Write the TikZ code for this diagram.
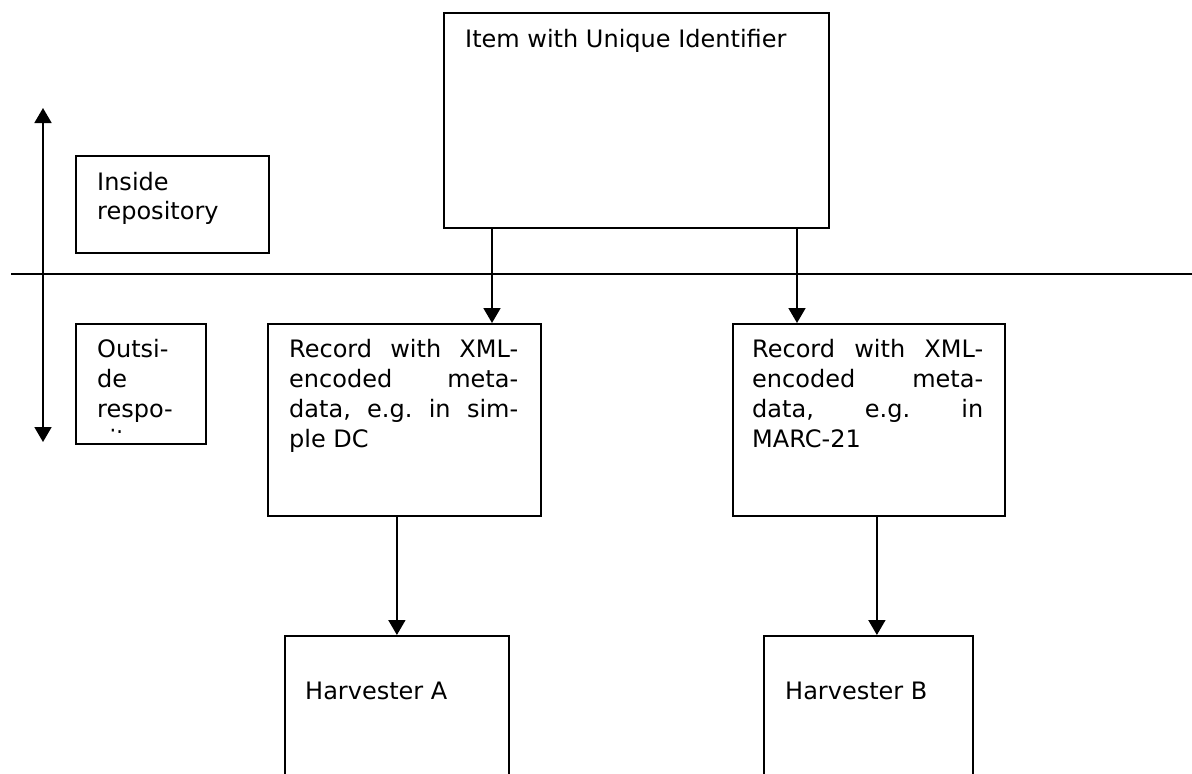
\documentclass[tikz,border=0pt]{standalone}
\usepackage{fontspec}
\setmainfont{DejaVu Sans}
\usetikzlibrary{arrows.meta}
\frenchspacing
\tikzset{
  box/.style={draw, line width=1.8pt, inner sep=0pt, anchor=north west},
  arr/.style={line width=1.8pt, -{Triangle[length=15pt,width=17pt]}},
  darr/.style={line width=1.8pt, {Triangle[length=15pt,width=17pt]}-{Triangle[length=15pt,width=17pt]}},
  txt/.style={anchor=base west, inner sep=0pt, font=\fontsize{24}{30}\selectfont}
}
\newcommand{\jline}[2]{\makebox[#1][s]{#2}}
\begin{document}
\begin{tikzpicture}[x=1pt,y=-1pt]
\useasboundingbox (0,0) rectangle (1192,774);
\clip (0,0) rectangle (1192,774);
% separator line and double arrow
\coordinate (hl) at (11,274);
\coordinate (hr) at (1192,274);
\draw[line width=1.8pt] (hl) -- (hr);
\coordinate (vt) at (43,108);
\coordinate (vb) at (43,442);
\draw[darr] (vb) -- (vt);
% boxes
\node[box, minimum width=385pt, minimum height=215pt] (item) at (443,12) {};
\node[box, minimum width=193pt, minimum height=97pt] (inside) at (75,155) {};
\node[box, minimum width=130pt, minimum height=120pt] (outside) at (75,323) {};
\node[box, minimum width=273pt, minimum height=192pt] (recA) at (267,323) {};
\node[box, minimum width=272pt, minimum height=192pt] (recB) at (732,323) {};
\node[box, minimum width=224pt, minimum height=220pt] (harvA) at (284,635) {};
\node[box, minimum width=209pt, minimum height=220pt] (harvB) at (763,635) {};
% texts
\node[txt] (itemt) at (465,47) {Item with Unique Identifier};
\node[txt] (insidet) at (97,190) {\parbox[t]{170pt}{\fontsize{24}{29}\selectfont Inside\\repository}};
\begin{scope}
\clip (75,323) rectangle (205,432);
\node[txt] (outsidet) at (97,357) {\parbox[t]{110pt}{\fontsize{24}{30}\selectfont Outsi-\\de\\respo-\\sitory}};
\end{scope}
\node[txt] (recAt) at (289,357) {\parbox[t]{229pt}{\fontsize{24}{30}\selectfont
  \jline{229pt}{Record with XML-}\\
  \jline{229pt}{encoded meta-}\\
  \jline{229pt}{data, e.g. in sim-}\\
  ple DC}};
\node[txt] (recBt) at (752,357) {\parbox[t]{231pt}{\fontsize{24}{30}\selectfont
  \jline{231pt}{Record with XML-}\\
  \jline{231pt}{encoded meta-}\\
  \jline{231pt}{data, e.g. in}\\
  MARC-21}};
\node[txt] (harvAt) at (305,699) {Harvester A};
\node[txt] (harvBt) at (785,699) {Harvester B};
% connectors
\draw[arr] ([xshift=49pt]item.south west) -- ([xshift=49pt]item.south west |- recA.north);
\draw[arr] ([xshift=354pt]item.south west) -- ([xshift=354pt]item.south west |- recB.north);
\draw[arr] (harvA.north |- recA.south) -- (harvA.north);
\draw[arr] ([xshift=8pt]recB.south) -- ([xshift=8pt]recB.south |- harvB.north);
\end{tikzpicture}
\end{document}
